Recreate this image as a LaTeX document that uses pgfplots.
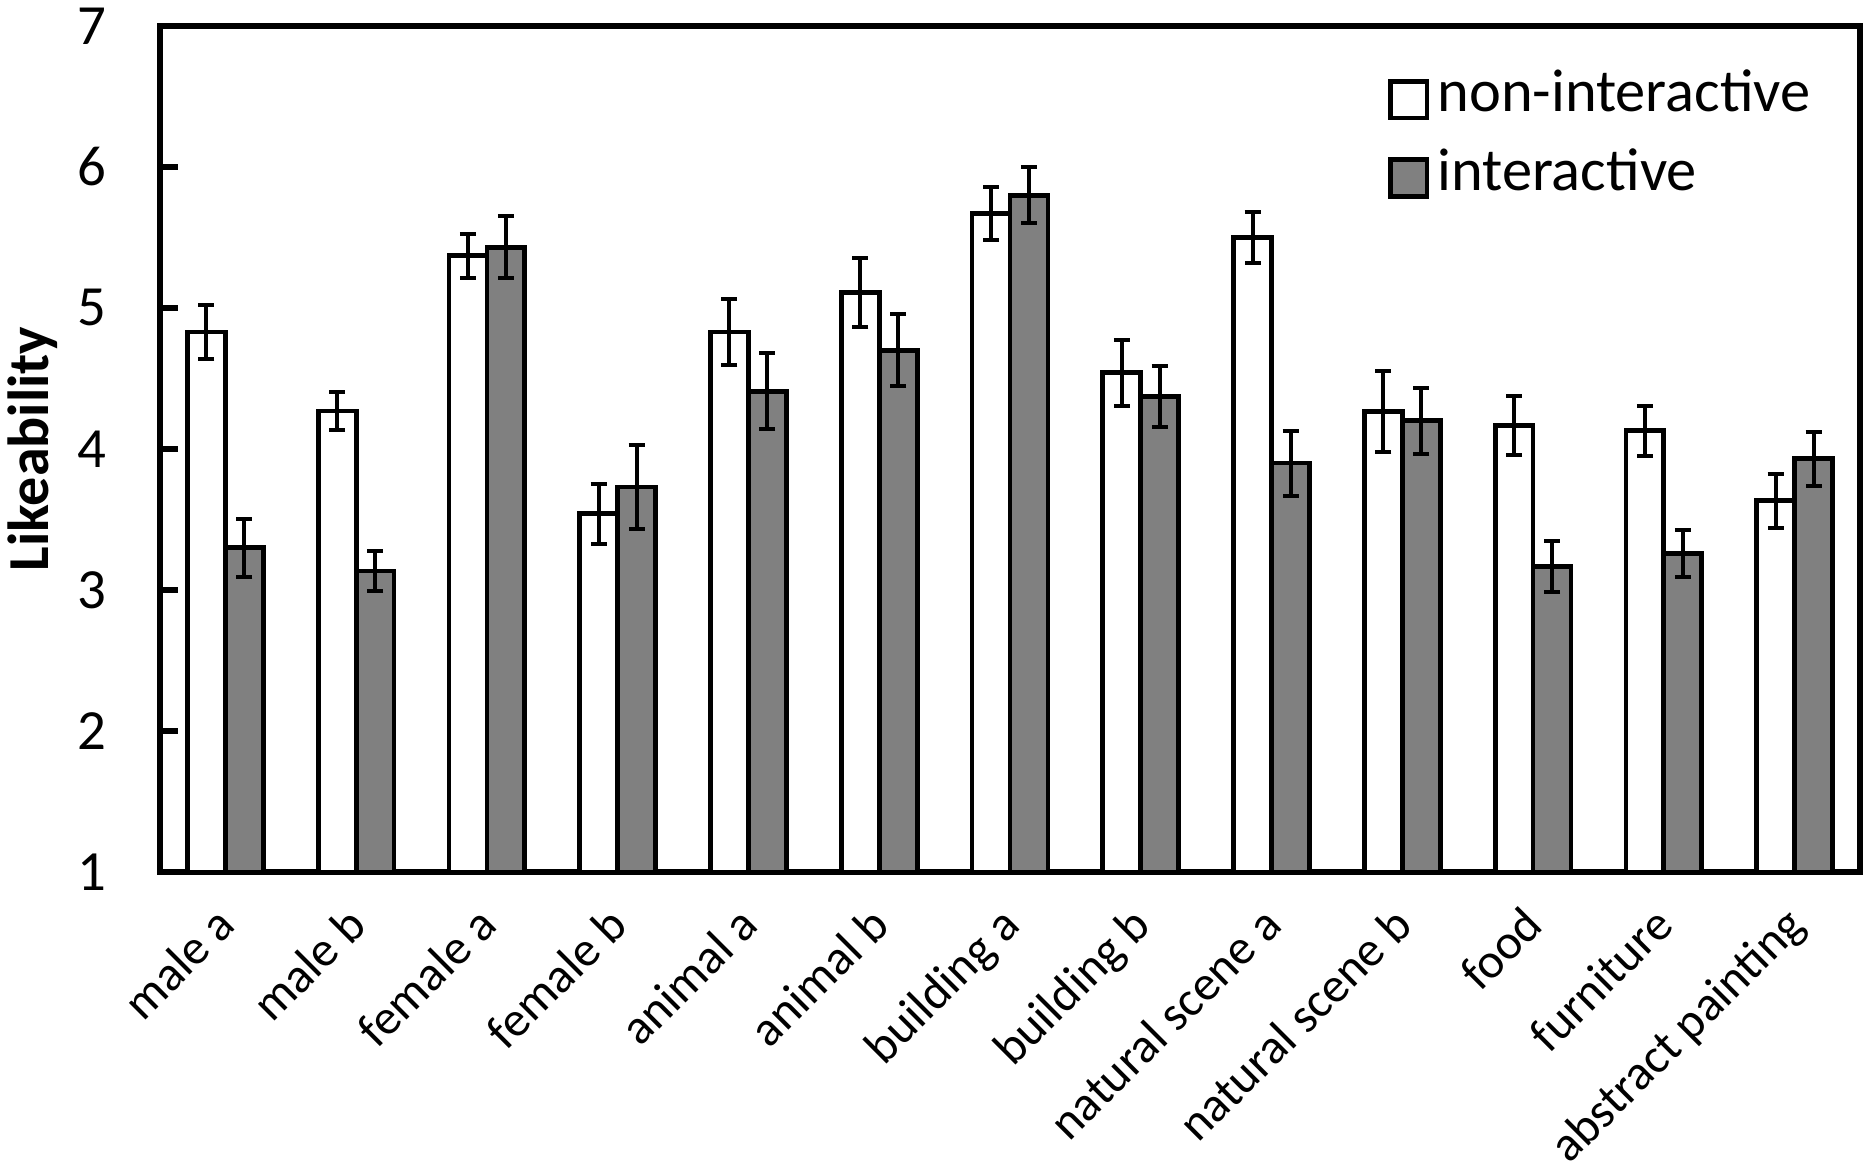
\documentclass[border=0pt]{standalone}
\usepackage{fontspec}
\setmainfont{Carlito}
\usepackage{pgfplots}
\usepackage{pgfplotstable}
\pgfplotsset{compat=1.18}
\usetikzlibrary{calc}
\definecolor{bargray}{RGB}{128,128,128}
\pgfplotsset{sqlegend/.style={legend image code/.code={\draw[##1, line width=1.2pt] (0pt,-4.6pt) rectangle (9.2pt,4.6pt);}}}

\pgfplotstableread{
x  w      we     g      ge
0  4.83   0.190  3.300  0.205
1  4.27   0.135  3.135  0.140
2  5.37   0.155  5.430  0.220
3  3.54   0.215  3.730  0.300
4  4.83   0.235  4.410  0.270
5  5.11   0.245  4.700  0.255
6  5.67   0.185  5.800  0.200
7  4.54   0.233  4.370  0.216
8  5.50   0.180  3.900  0.230
9  4.265  0.285  4.200  0.234
10 4.165  0.210  3.167  0.178
11 4.13   0.178  3.260  0.168
12 3.633  0.190  3.930  0.190
}\datatable

\begin{document}
\begin{tikzpicture}
\begin{axis}[
  scale only axis,
  width=425pt, height=211.5pt,
  xmin=-0.5, xmax=12.5,
  ymin=1, ymax=7,
  ytick={1,2,3,4,5,6,7},
  xtick={0,1,2,3,4,5,6,7,8,9,10,11,12},
  xticklabels={male a, male b, female a, female b, animal a, animal b, building a, building b, natural scene a, natural scene b, food, furniture, abstract painting},
  x tick style={draw=none},
  ytick pos=left,
  tick align=inside,
  major tick length=4.5pt,
  y tick style={line width=1.6pt, black},
  axis line style={line width=1.6pt, black},
  /pgf/number format/assume math mode=true,
  yticklabel style={font=\fontsize{14.2}{17}\selectfont, xshift=-10pt},
  xticklabel style={font=\fontsize{12.3}{15}\selectfont, rotate=45, anchor=north east, xshift=-4.24pt, yshift=0pt},
  ylabel={\bfseries Likeability},
  ylabel style={font=\fontsize{14.5}{17}\selectfont, at={(axis description cs:-0.0747,0.5)}, anchor=center},
  legend style={draw=none, fill=none, at={(rel axis cs:0.7218,0.9385)}, anchor=north west,
    inner sep=0pt, row sep=9.2pt, column sep=2pt,
    font=\fontsize{15.1}{18}\selectfont,
    nodes={inner sep=0pt, text height=0.62em, text depth=0pt}},
  legend cell align=left,
]
\coordinate (BL) at (rel axis cs:0,0);
\coordinate (TR) at (rel axis cs:1,1);
\addplot[ybar, bar width=0.29, bar shift=0, fill=white, draw=black, line width=1.2pt, sqlegend,
  error bars/.cd, y dir=both, y explicit,
  error bar style={line width=1pt, black},
  error mark options={rotate=90, mark size=2pt, line width=1pt, black}]
  table[x expr=\thisrow{x}-0.145, y=w, y error=we] {\datatable};
\addlegendentry{non-interactive}
\addplot[ybar, bar width=0.29, bar shift=0, fill=bargray, draw=black, line width=1.2pt, sqlegend,
  error bars/.cd, y dir=both, y explicit,
  error bar style={line width=1pt, black},
  error mark options={rotate=90, mark size=2pt, line width=1pt, black}]
  table[x expr=\thisrow{x}+0.145, y=g, y error=ge] {\datatable};
\addlegendentry{interactive}
\end{axis}
\pgfresetboundingbox
\path[use as bounding box] ($(BL)+(-40pt,-74.25pt)$) rectangle ($(TR)+(1.5pt,6.5pt)$);
\end{tikzpicture}
\end{document}
